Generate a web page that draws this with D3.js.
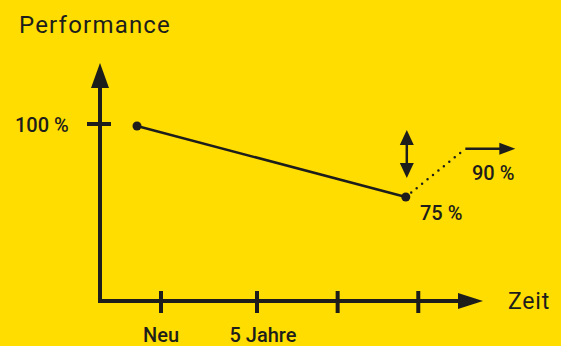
<!DOCTYPE html>
<html>
<head>
    <title>performance</title>
    <style>
        body { margin: 0; background: #ffdd00; }
        text { font-family: Roboto, "DejaVu Sans", sans-serif; fill: #1d1d1b; }
    </style>
</head>
<body>
    <script src="https://d3js.org/d3.v7.min.js"></script>
    <svg width="561" height="346" id="mainsvg"></svg>
    <script>
        // time in years, value in percent
        const tickYears = [0, 5, 9.2, 13.4];
        const tickLabels = ['Neu', '5 Jahre', '', ''];
        const lineYears = [-1.25, 12.75];
        const lineValues = [100, 75];
        const outlookYears = [12.75, 15.85];
        const outlookValues = [75, 92];
        const valueLabels = ['100 %', '75 %', '90 %'];

        const svg = d3.select('#mainsvg');
        const dark = '#1d1d1b';

        svg.append('rect').attr('width', 561).attr('height', 346).attr('fill', '#ffdd00');

        const x = d3.scaleLinear().domain([0, 5]).range([161, 257]);
        const y = d3.scaleLinear().domain([75, 100]).range([197, 126]);
        const x0 = 100, yAxis = 301;

        // axes
        svg.append('line').attr('x1', x0).attr('x2', x0).attr('y1', yAxis + 2).attr('y2', 85)
            .attr('stroke', dark).attr('stroke-width', 4);
        svg.append('line').attr('x1', x0 - 2).attr('x2', 460).attr('y1', yAxis).attr('y2', yAxis)
            .attr('stroke', dark).attr('stroke-width', 4);
        svg.append('path').attr('d', `M${x0},63 L${x0 + 9},88 L${x0 - 9},88Z`).attr('fill', dark);
        svg.append('path').attr('d', `M483,${yAxis} L458,${yAxis - 8} L458,${yAxis + 8}Z`).attr('fill', dark);

        // x ticks
        svg.append('g').selectAll('line').data(tickYears).join('line')
            .attr('x1', d => x(d)).attr('x2', d => x(d))
            .attr('y1', yAxis - 10).attr('y2', yAxis + 12)
            .attr('stroke', dark).attr('stroke-width', 4);
        svg.append('g').selectAll('text').data(tickLabels).join('text')
            .attr('x', (d, i) => x(tickYears[i]) + (i === 1 ? 6 : 0)).attr('y', 342)
            .attr('text-anchor', 'middle').attr('font-size', 20).attr('font-weight', 500)
            .text(d => d);

        // y tick 100%
        svg.append('line').attr('x1', 87).attr('x2', 111).attr('y1', y(100) - 2).attr('y2', y(100) - 2)
            .attr('stroke', dark).attr('stroke-width', 4);
        svg.append('text').attr('x', 15).attr('y', y(100) + 6).attr('font-size', 20).attr('font-weight', 500)
            .text(valueLabels[0]);

        // titles
        svg.append('text').attr('x', 19).attr('y', 33).attr('font-size', 24)
            .attr('letter-spacing', 1.2).text('Performance');
        svg.append('text').attr('x', 508).attr('y', 309).attr('font-size', 23)
            .attr('letter-spacing', 0.8).text('Zeit');

        // main line
        const pts = lineYears.map((d, i) => [x(d), y(lineValues[i])]);
        svg.append('path').attr('d', d3.line()(pts)).attr('fill', 'none')
            .attr('stroke', dark).attr('stroke-width', 2.5);
        svg.append('g').selectAll('circle').data(pts).join('circle')
            .attr('cx', d => d[0]).attr('cy', d => d[1]).attr('r', 4.5).attr('fill', dark);

        // dotted outlook
        const op = outlookYears.map((d, i) => [x(d), y(outlookValues[i])]);
        svg.append('path').attr('d', d3.line()(op)).attr('fill', 'none')
            .attr('stroke', dark).attr('stroke-width', 2.5)
            .attr('stroke-dasharray', '0 7').attr('stroke-linecap', 'round')
            .attr('stroke-dashoffset', -7);
        const ox = op[1][0], oy = op[1][1];
        svg.append('line').attr('x1', ox).attr('x2', ox + 36).attr('y1', oy).attr('y2', oy)
            .attr('stroke', dark).attr('stroke-width', 2.5);
        svg.append('path').attr('d', `M${ox + 50},${oy} L${ox + 34},${oy - 6} L${ox + 34},${oy + 6}Z`).attr('fill', dark);

        // double arrow
        const dx = pts[1][0] + 1;
        svg.append('line').attr('x1', dx).attr('x2', dx).attr('y1', 140).attr('y2', 168)
            .attr('stroke', dark).attr('stroke-width', 2.5);
        svg.append('path').attr('d', `M${dx},130 L${dx + 7},145 L${dx - 7},145Z`).attr('fill', dark);
        svg.append('path').attr('d', `M${dx},178 L${dx + 7},163 L${dx - 7},163Z`).attr('fill', dark);

        // value labels
        svg.append('text').attr('x', 420).attr('y', 220).attr('font-size', 20).attr('font-weight', 500)
            .text(valueLabels[1]);
        svg.append('text').attr('x', 472).attr('y', 180).attr('font-size', 20).attr('font-weight', 500)
            .text(valueLabels[2]);
    </script>
</body>
</html>
